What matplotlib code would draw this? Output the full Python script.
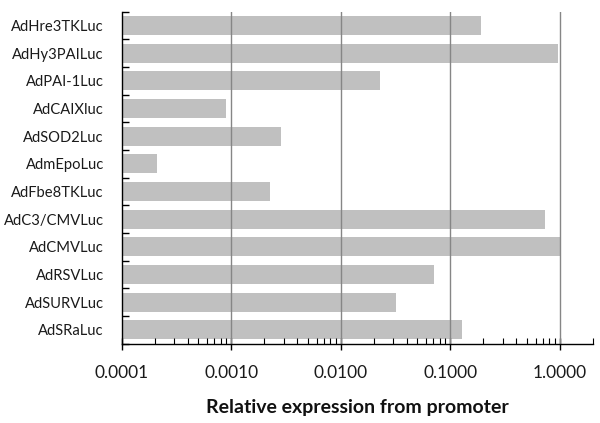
import matplotlib
matplotlib.use("Agg")
import matplotlib.pyplot as plt
from matplotlib.ticker import FixedLocator, LogLocator, NullFormatter
import numpy as np

# ---------------------------------------------------------------------------
# Data (top to bottom)
# ---------------------------------------------------------------------------
constructs = [
    "AdHre3TKLuc", "AdHy3PAILuc", "AdPAI-1Luc", "AdCAIXluc", "AdSOD2Luc",
    "AdmEpoLuc", "AdFbe8TKLuc", "AdC3/CMVLuc", "AdCMVLuc", "AdRSVLuc",
    "AdSURVLuc", "AdSRaLuc",
]
expression = [
    0.19, 0.965, 0.0227, 0.00090, 0.00287,
    0.00021, 0.00225, 0.73, 1.0, 0.0706,
    0.0318, 0.1265,
]
x_ticks = [0.0001, 0.001, 0.01, 0.1, 1.0]
x_tick_labels = ["0.0001", "0.0010", "0.0100", "0.1000", "1.0000"]

plt.rcParams["font.family"] = ["Lato", "DejaVu Sans"]

fig = plt.figure(figsize=(6, 4.23), dpi=100)
ax = fig.add_axes([0.203, 0.1875, 0.785, 0.785])

y = np.arange(len(constructs))
ax.barh(y, expression, height=0.69, color="#c0c0c0", zorder=1)

ax.set_xscale("log")
ax.set_xlim(1e-4, 2.0)
ax.set_ylim(len(constructs) - 0.5, -0.5)

# gridlines at major decades
for v in x_ticks[1:]:
    ax.axvline(v, color="#868686", linewidth=1.0, zorder=2)

ax.xaxis.set_major_locator(FixedLocator(x_ticks))
ax.set_xticklabels(x_tick_labels, fontsize=12.5, color="#1a1a1a")
ax.xaxis.set_minor_locator(LogLocator(base=10, subs=np.arange(2, 10)))
ax.xaxis.set_minor_formatter(NullFormatter())
ax.tick_params(axis="x", which="major", direction="inout", length=8,
               width=1.0, pad=11)
ax.tick_params(axis="x", which="minor", direction="in", length=4, width=0.8)

ax.set_yticks(y)
ax.set_yticklabels(constructs, fontsize=10.6, color="#1a1a1a")
ax.tick_params(axis="y", which="major", length=0, pad=13)
ax.yaxis.set_minor_locator(FixedLocator(np.arange(-0.5, len(constructs), 1)))
ax.tick_params(axis="y", which="minor", direction="in", length=5, width=1.0)

for side in ("top", "right"):
    ax.spines[side].set_visible(False)
for side in ("left", "bottom"):
    ax.spines[side].set_linewidth(1.0)
    ax.spines[side].set_zorder(3)

ax.set_xlabel("Relative expression from promoter", fontsize=14,
              fontweight="bold", labelpad=13, color="#111111")

fig.savefig("out.png", dpi=100)
